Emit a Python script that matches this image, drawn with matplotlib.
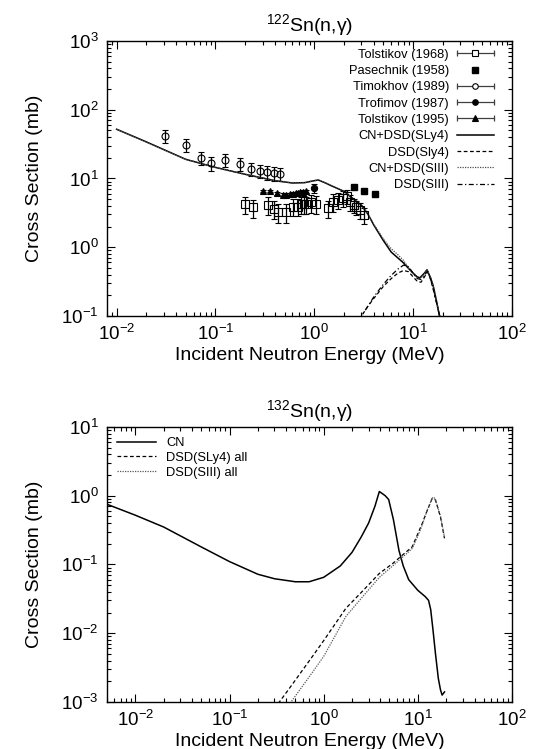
import matplotlib
matplotlib.use("Agg")
import matplotlib.pyplot as plt
from matplotlib.legend_handler import HandlerBase
from matplotlib.lines import Line2D

plt.rcParams['font.family'] = ['Liberation Sans', 'DejaVu Sans']
plt.rcParams['mathtext.fontset'] = 'custom'
plt.rcParams['mathtext.rm'] = 'Liberation Sans'
plt.rcParams['mathtext.it'] = 'Liberation Sans:italic'
plt.rcParams['mathtext.bf'] = 'Liberation Sans:bold'
plt.rcParams['axes.unicode_minus'] = False

# ---- 122Sn(n,g): experimental data (MeV, mb) ----
tol68_E = [0.201, 0.241, 0.341, 0.389, 0.43, 0.52, 0.61, 0.68, 0.73, 0.78, 0.83, 0.93,
           1.05, 1.36, 1.55, 1.72, 1.94, 2.14, 2.32, 2.5, 2.67, 2.88, 3.16]
tol68_sig = [4.2, 3.8, 4.1, 3.66, 3.24, 3.24, 3.9, 3.9, 4.2, 4.3, 4.2, 4.5,
             4.3, 3.7, 4.6, 4.9, 5.2, 5.5, 4.6, 4.1, 3.8, 3.5, 2.95]
tol68_err = [1.2, 1.1, 1.2, 1.1, 1.0, 1.0, 1.1, 1.1, 1.2, 1.3, 1.2, 1.3,
             1.3, 1.0, 1.3, 1.3, 1.3, 1.3, 1.2, 1.0, 0.9, 0.9, 0.8]

pas_E = [2.54, 3.15, 4.07]
pas_sig = [7.6, 6.6, 5.9]

tim_E = [0.0306, 0.0507, 0.0706, 0.091, 0.126, 0.176, 0.23, 0.279, 0.333, 0.395, 0.454]
tim_sig = [41.6, 30.8, 20.1, 16.7, 18.6, 16.3, 13.8, 13.0, 12.3, 11.9, 11.7]
tim_err = [9.0, 6.8, 4.4, 3.7, 4.1, 3.6, 3.0, 2.9, 2.7, 2.6, 2.6]

tro_E = [1.0]
tro_sig = [7.2]
tro_err = [1.0]

tol95_E = [0.30, 0.355, 0.42, 0.48, 0.52, 0.565, 0.61, 0.65, 0.68, 0.71, 0.76, 0.82]
tol95_sig = [6.6, 6.6, 6.1, 5.8, 5.8, 5.9, 6.0, 6.1, 6.2, 6.3, 6.4, 6.5]
tol95_err = [0.3] * 12

# ---- 122Sn(n,g): calculations ----
tot_E = [0.01, 0.02, 0.05, 0.1, 0.2, 0.4, 0.6, 0.8, 1.0, 1.1, 1.3, 1.5, 2.0, 2.5,
         3.0, 3.5, 4.0, 5.0, 6.0, 7.0, 8.0, 9.0, 10.0, 11.0, 11.7, 13.0, 13.8,
         15.0, 16.0, 17.0, 18.0, 19.0, 20.0]
tot_sly4 = [52, 34, 19, 14.5, 11.5, 9.3, 8.6, 8.7, 9.3, 9.5, 8.6, 7.8, 6.5, 5.0,
            4.1, 3.0, 2.1, 1.25, 0.85, 0.7, 0.59, 0.49, 0.42, 0.37, 0.36, 0.42, 0.47,
            0.36, 0.27, 0.18, 0.12, 0.085, 0.06]
tot_siii = [52, 34, 19, 14.5, 11.5, 9.3, 8.6, 8.7, 9.3, 9.5, 8.6, 7.8, 6.5, 5.0,
            4.1, 3.0, 2.15, 1.32, 0.95, 0.78, 0.64, 0.5, 0.41, 0.36, 0.35, 0.41, 0.47,
            0.36, 0.27, 0.18, 0.12, 0.085, 0.06]

dsd_E = [2.8, 3.0, 3.5, 4.0, 5.0, 6.0, 7.0, 8.0, 9.0, 10.0, 11.0, 12.0, 13.0, 14.0,
         15.0, 16.0, 17.0, 18.0, 19.0, 20.0]
dsd_sly4 = [0.09, 0.1, 0.14, 0.18, 0.27, 0.35, 0.42, 0.46, 0.44, 0.37, 0.32, 0.31,
            0.37, 0.44, 0.34, 0.24, 0.17, 0.12, 0.085, 0.06]
dsd_siii = [0.09, 0.1, 0.14, 0.19, 0.29, 0.39, 0.48, 0.55, 0.52, 0.42, 0.35, 0.34,
            0.39, 0.45, 0.35, 0.25, 0.17, 0.12, 0.085, 0.06]

# ---- 132Sn(n,g): calculations ----
cn132_E = [0.005, 0.01, 0.02, 0.05, 0.1, 0.2, 0.3, 0.5, 0.7, 1.0, 1.5, 2.0, 2.5,
           3.0, 3.5, 3.9, 4.5, 4.9, 5.5, 6.3, 7.0, 8.0, 10.0, 12.0, 13.0, 13.7,
           14.5, 15.4, 16.5, 17.4, 18.1, 19.2]
cn132 = [0.75, 0.52, 0.35, 0.18, 0.11, 0.072, 0.062, 0.056, 0.056, 0.065, 0.095,
         0.15, 0.25, 0.4, 0.7, 1.15, 1.0, 0.88, 0.45, 0.16, 0.095, 0.06, 0.042,
         0.034, 0.03, 0.022, 0.011, 0.005, 0.0022, 0.0015, 0.00126, 0.0014]

d132_E = [0.3, 0.37, 0.45, 0.76, 1.0, 1.72, 2.5, 3.9, 5.4, 7.0, 8.7, 10.0, 11.1,
          12.5, 14.2, 14.8, 15.4, 17.4, 19.2]
d132_sly4 = [0.0008, 0.00118, 0.0017, 0.0046, 0.0078, 0.023, 0.039, 0.074, 0.103,
             0.14, 0.18, 0.28, 0.39, 0.6, 0.91, 0.9, 0.86, 0.49, 0.24]
d132_siii = [0.0005, 0.0007, 0.001, 0.0027, 0.0046, 0.0175, 0.032, 0.065, 0.095,
             0.13, 0.17, 0.26, 0.37, 0.6, 0.92, 0.95, 0.88, 0.5, 0.25]


class HandlerErrKey(HandlerBase):
    """gnuplot-like key: horizontal bar with end caps and a point in the middle"""
    def __init__(self, marker, filled, ms):
        super().__init__()
        self.marker = marker
        self.filled = filled
        self.ms = ms

    def create_artists(self, legend, orig_handle, xdescent, ydescent,
                       width, height, fontsize, trans):
        y = height / 2 - ydescent
        x0, x1 = -xdescent, width - xdescent
        bar = Line2D([x0, x1], [y, y], color='0.25', lw=0.9)
        caps = Line2D([x0, x1], [y, y], ls='none', marker='|', ms=5,
                      mew=0.9, color='0.25')
        mark = Line2D([(x0 + x1) / 2], [y], ls='none', marker=self.marker,
                      ms=self.ms, mfc='k' if self.filled else 'white',
                      mec='k', mew=0.8)
        for a in (bar, caps, mark):
            a.set_transform(trans)
        return [bar, caps, mark]


def style_axes(ax):
    ax.set_xscale('log')
    ax.set_yscale('log')
    ax.tick_params(which='both', direction='in', top=True, right=True,
                   labelsize=13.5, width=0.8)
    ax.tick_params(which='major', length=6, pad=6)
    ax.tick_params(which='minor', length=3)
    for s in ax.spines.values():
        s.set_linewidth(1.0)
    ax.set_xlabel('Incident Neutron Energy (MeV)', fontsize=14, labelpad=2)
    ax.set_ylabel('Cross Section (mb)', fontsize=14, labelpad=13)


fig = plt.figure(figsize=(5.33, 7.49), dpi=100)
ax1 = fig.add_axes([0.2008, 0.5781, 0.7598, 0.3672])
ax2 = fig.add_axes([0.2008, 0.0628, 0.7598, 0.3672])

# ---------------- top panel ----------------
eb_kw = dict(ls='none', ecolor='k', elinewidth=0.9, capsize=2.5, capthick=0.9, mec='k', mew=0.8)
h_tol68 = ax1.errorbar(tol68_E, tol68_sig, yerr=tol68_err, marker='s', ms=5.5, mfc='none', **eb_kw)
h_pas, = ax1.plot(pas_E, pas_sig, ls='none', marker='s', ms=5, color='k')
h_tim = ax1.errorbar(tim_E, tim_sig, yerr=tim_err, marker='o', ms=5, mfc='none', **eb_kw)
h_tro = ax1.errorbar(tro_E, tro_sig, yerr=tro_err, marker='o', ms=4.5, mfc='k', **eb_kw)
h_tol95 = ax1.errorbar(tol95_E, tol95_sig, yerr=tol95_err, marker='^', ms=4.5, mfc='k', **eb_kw)

h_l1, = ax1.plot(tot_E, tot_sly4, color='k', lw=1.1)
h_l2, = ax1.plot(dsd_E, dsd_sly4, color='k', lw=0.9, ls=(0, (3, 2)))
h_l3, = ax1.plot(tot_E, tot_siii, color='0.3', lw=0.9, ls=(0, (1, 1)))
h_l4, = ax1.plot(dsd_E, dsd_siii, color='k', lw=0.9, ls=(0, (4, 2, 1, 2)))

ax1.set_xlim(0.008, 100)
ax1.set_ylim(0.1, 1000)
style_axes(ax1)
ax1.set_title('$^{122}$Sn(n,γ)', fontsize=14, pad=7)

handles = [h_tol68, h_pas, h_tim, h_tro, h_tol95, h_l1, h_l2, h_l3, h_l4]
labels = ['Tolstikov (1968)', 'Pasechnik (1958)', 'Timokhov (1989)', 'Trofimov (1987)',
          'Tolstikov (1995)', 'CN+DSD(SLy4)', 'DSD(Sly4)', 'CN+DSD(SIII)', 'DSD(SIII)']
hmap = {h_tol68: HandlerErrKey('s', False, 4.5),
        h_tim: HandlerErrKey('o', False, 4),
        h_tro: HandlerErrKey('o', True, 4),
        h_tol95: HandlerErrKey('^', True, 4.5)}
ax1.legend(handles, labels, handler_map=hmap, loc='upper right', frameon=False,
           markerfirst=False, fontsize=9.3, numpoints=1, handlelength=2.9,
           handletextpad=0.6, labelspacing=0.33, borderaxespad=0.2,
           bbox_to_anchor=(0.975, 1.0))

# ---------------- bottom panel ----------------
ax2.plot(cn132_E, cn132, color='k', lw=1.1, label='CN')
ax2.plot(d132_E, d132_sly4, color='k', lw=0.9, ls=(0, (3, 2)), label='DSD(SLy4) all')
ax2.plot(d132_E, d132_siii, color='0.35', lw=0.9, ls=(0, (1, 1)), label='DSD(SIII) all')

ax2.set_xlim(0.005, 100)
ax2.set_ylim(0.001, 10)
style_axes(ax2)
ax2.set_title('$^{132}$Sn(n,γ)', fontsize=14, pad=7)
ax2.legend(loc='upper left', frameon=False, fontsize=9.3, handlelength=3.0,
           handletextpad=0.8, labelspacing=0.2, borderaxespad=0.4)

fig.savefig('out.png', dpi=100)
